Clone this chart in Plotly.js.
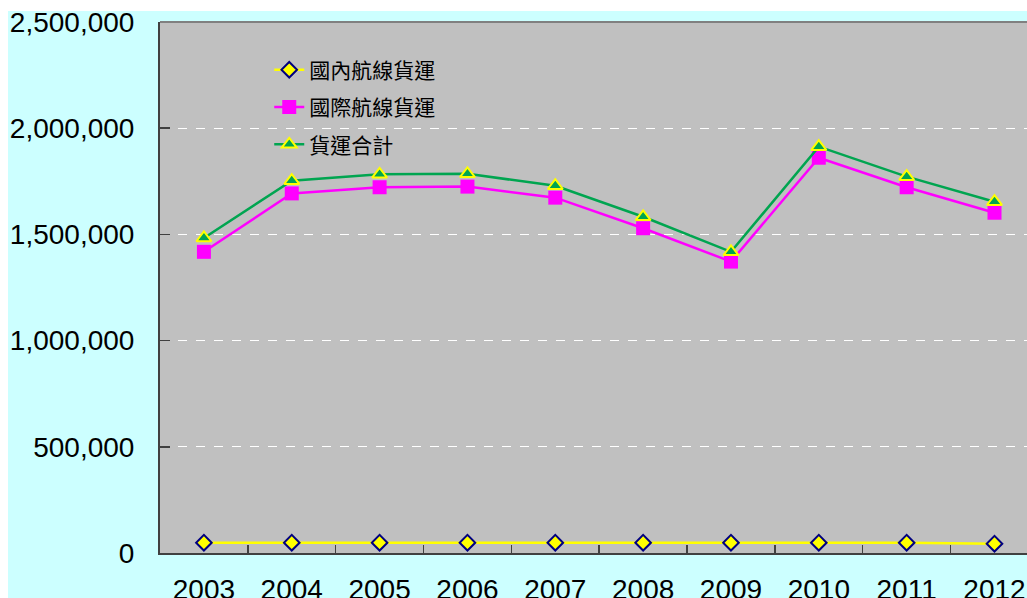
<!DOCTYPE html>
<html>
<head>
<meta charset="utf-8">
<script src="https://cdn.plot.ly/plotly-3.0.1.min.js"></script>
<style>
html,body{margin:0;padding:0;background:#ffffff;width:1027px;height:598px;overflow:hidden;}
#bg{position:absolute;left:8px;top:11px;width:1019px;height:587px;background:#CCFFFF;}
#chart{position:absolute;left:0;top:0;width:1027px;height:598px;}
</style>
</head>
<body>
<div id="bg"></div>
<div id="chart"></div>
<script>
var years = ["2003","2004","2005","2006","2007","2008","2009","2010","2011","2012"];
var domestic = [48500,48500,48500,48500,48500,48500,48500,48500,48500,43800];
var international = [1418000,1693000,1722000,1725000,1673000,1529000,1372000,1861000,1722000,1602000];
var total = [1483000,1753000,1783000,1785000,1729000,1583000,1418000,1913000,1772000,1654000];
var seriesNames = ["國內航線貨運","國際航線貨運","貨運合計"];
var yTickVals = [0,500000,1000000,1500000,2000000,2500000];
var yTickText = ["0","500,000","1,000,000","1,500,000","2,000,000","2,500,000"];

var traces = [
  {x: years, y: domestic, name: seriesNames[0], type: "scatter", mode: "lines+markers", legendgroup: "a",
   line: {color: "#FFFF00", width: 2.5},
   marker: {symbol: "diamond", size: 12, color: "#FFFF00", line: {color: "#000080", width: 2}}},
  {x: years, y: international, name: seriesNames[1], type: "scatter", mode: "lines+markers", legendgroup: "b",
   line: {color: "#FF00FF", width: 2.5},
   marker: {symbol: "square", size: 14, color: "#FF00FF", line: {color: "#FF00FF", width: 0}}},
  {x: years, y: total, name: seriesNames[2], type: "scatter", mode: "lines+markers", legendgroup: "c",
   line: {color: "#00A550", width: 2.5},
   marker: {symbol: "triangle-up", size: 13, color: "#00A550", line: {color: "#FFFF00", width: 2}}}
];

var layout = {
  width: 1027, height: 598,
  margin: {l: 160, r: 0, t: 22, b: 45, pad: 0},
  paper_bgcolor: "rgba(0,0,0,0)",
  plot_bgcolor: "#C0C0C0",
  showlegend: true,
  legend: {x: 0.126, y: 0.948, xanchor: "left", yanchor: "top", bgcolor: "rgba(0,0,0,0)",
           traceorder: "grouped", tracegroupgap: 7,
           font: {family: "Noto Sans CJK TC", size: 21, color: "#000000"}},
  xaxis: {type: "category", range: [-0.5, 9.37], fixedrange: true,
          showline: true, linecolor: "#404040", linewidth: 2,
          ticks: "inside", ticklen: 8, tickcolor: "#404040", tickwidth: 1.5, tickson: "boundaries",
          showgrid: false, ticklabelstandoff: 10,
          tickfont: {family: "Liberation Sans, Arial", size: 28, color: "#000000"}},
  yaxis: {range: [0, 2500000], tickvals: yTickVals, ticktext: yTickText, fixedrange: true,
          showline: true, linecolor: "#404040", linewidth: 2,
          ticks: "inside", ticklen: 10, tickcolor: "#404040", tickwidth: 1.5,
          showgrid: true, gridcolor: "#FFFFFF", gridwidth: 1, griddash: "dash", zeroline: false,
          ticklabelstandoff: 18,
          tickfont: {family: "Liberation Sans, Arial", size: 28, color: "#000000"}},
  shapes: [{type: "line", xref: "paper", yref: "paper", x0: 0, x1: 1, y0: 1, y1: 1,
            line: {color: "#808080", width: 2}}]
};

Plotly.newPlot("chart", traces, layout, {displayModeBar: false, staticPlot: true});
</script>
</body>
</html>
